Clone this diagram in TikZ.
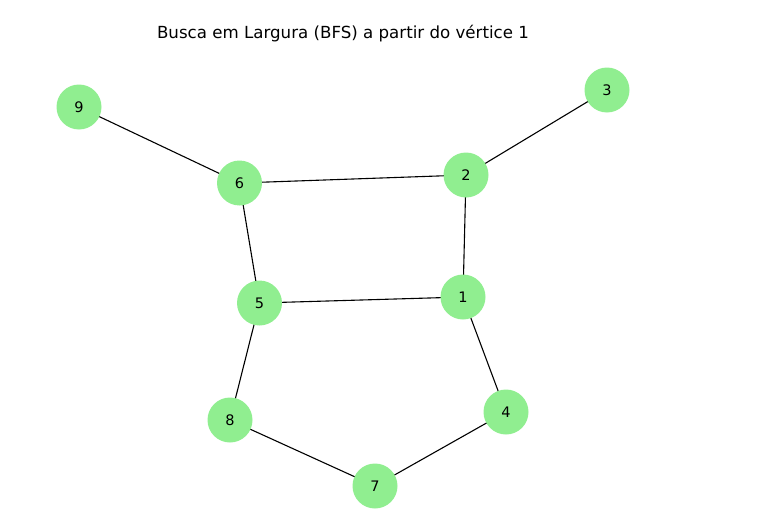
\documentclass[tikz,border=0pt]{standalone}
\usepackage{fontspec}
\setmainfont{DejaVu Sans}
\definecolor{lgreen}{HTML}{90EE90}
\begin{document}
\begin{tikzpicture}[x=1pt,y=-1pt,
  vtx/.style={circle,fill=lgreen,draw=none,minimum size=45pt,inner sep=0pt,font=\fontsize{14.5}{14.5}\selectfont},
  edge/.style={draw=black,line width=1.1pt}]
\useasboundingbox (0,0) rectangle (761,522);
\node[font=\fontsize{16.65}{16.65}\selectfont] (title) at (343,34) {Busca em Largura (BFS) a partir do vértice 1};
\coordinate (p9) at (79,107);
\coordinate (p6) at (239.5,183);
\coordinate (p2) at (466,175);
\coordinate (p3) at (607,90);
\coordinate (p5) at (259.5,303);
\coordinate (p1) at (463,297);
\coordinate (p8) at (230,420);
\coordinate (p4) at (506,412);
\coordinate (p7) at (375,486);
\draw[edge] (p9) -- (p6);
\draw[edge] (p6) -- (p2);
\draw[edge] (p2) -- (p3);
\draw[edge] (p6) -- (p5);
\draw[edge] (p2) -- (p1);
\draw[edge] (p5) -- (p1);
\draw[edge] (p5) -- (p8);
\draw[edge] (p1) -- (p4);
\draw[edge] (p8) -- (p7);
\draw[edge] (p4) -- (p7);
\node[vtx] (n9) at (p9) {9};
\node[vtx] (n6) at (p6) {6};
\node[vtx] (n2) at (p2) {2};
\node[vtx] (n3) at (p3) {3};
\node[vtx] (n5) at (p5) {5};
\node[vtx] (n1) at (p1) {1};
\node[vtx] (n8) at (p8) {8};
\node[vtx] (n4) at (p4) {4};
\node[vtx] (n7) at (p7) {7};
\end{tikzpicture}
\end{document}
